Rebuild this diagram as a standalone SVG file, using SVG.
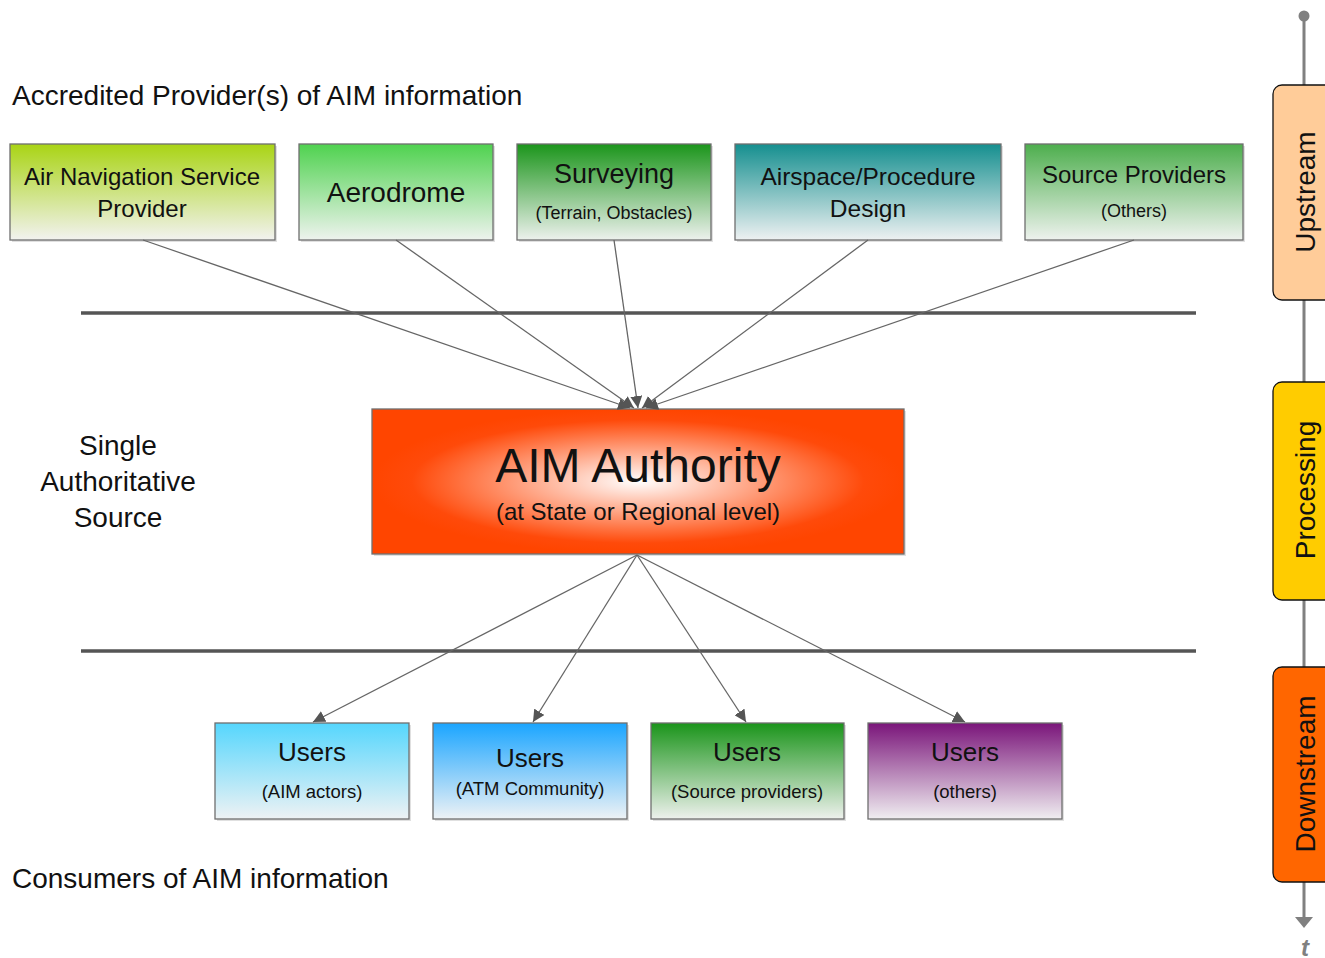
<svg xmlns="http://www.w3.org/2000/svg" width="1325" height="958" viewBox="0 0 1325 958">
<style>
text{font-family:"Liberation Sans",Arial,sans-serif;fill:#111;text-anchor:middle;dominant-baseline:central}
.box{stroke:#6f6f6f;stroke-width:1.3}
.sh{fill:#000;opacity:0.12}
.lbl{text-anchor:start}
.conn{stroke:#666;stroke-width:1.3;fill:none;marker-end:url(#ah)}
.bar{stroke:#555;stroke-width:3.5}
.side{stroke:#111;stroke-width:1.3}
</style>
<defs>
<marker id="ah" viewBox="0 0 10 10" refX="10" refY="5" markerWidth="12" markerHeight="12" markerUnits="userSpaceOnUse" orient="auto">
<path d="M0,0 L10,5 L0,10 z" fill="#555"/>
</marker>
<linearGradient id="g1" x1="0" y1="0" x2="0" y2="1"><stop offset="0" stop-color="#a9d414"/><stop offset="1" stop-color="#f2f2f0"/></linearGradient>
<linearGradient id="g2" x1="0" y1="0" x2="0" y2="1"><stop offset="0" stop-color="#4fd24f"/><stop offset="1" stop-color="#eef3ee"/></linearGradient>
<linearGradient id="g3" x1="0" y1="0" x2="0" y2="1"><stop offset="0" stop-color="#1b951b"/><stop offset="1" stop-color="#edf1ed"/></linearGradient>
<linearGradient id="g4" x1="0" y1="0" x2="0" y2="1"><stop offset="0" stop-color="#158f8f"/><stop offset="1" stop-color="#eef1f2"/></linearGradient>
<linearGradient id="g5" x1="0" y1="0" x2="0" y2="1"><stop offset="0" stop-color="#4dae4d"/><stop offset="1" stop-color="#eef2ee"/></linearGradient>
<linearGradient id="u1" x1="0" y1="0" x2="0" y2="1"><stop offset="0" stop-color="#55d6fd"/><stop offset="1" stop-color="#eef2f4"/></linearGradient>
<linearGradient id="u2" x1="0" y1="0" x2="0" y2="1"><stop offset="0" stop-color="#1aa5ff"/><stop offset="1" stop-color="#eef2f5"/></linearGradient>
<linearGradient id="u3" x1="0" y1="0" x2="0" y2="1"><stop offset="0" stop-color="#1a941a"/><stop offset="1" stop-color="#eef1ed"/></linearGradient>
<linearGradient id="u4" x1="0" y1="0" x2="0" y2="1"><stop offset="0" stop-color="#7a157a"/><stop offset="1" stop-color="#f0eef1"/></linearGradient>
<radialGradient id="rg" cx="0.5" cy="0.5" r="0.5"><stop offset="0" stop-color="#ffffff"/><stop offset="0.85" stop-color="#ff4a0a"/><stop offset="1" stop-color="#ff4500"/></radialGradient>
</defs>
<rect width="1325" height="958" fill="#fff"/>

<text class="lbl" x="12" y="95" font-size="28">Accredited Provider(s) of AIM information</text>
<text class="lbl" x="12" y="878" font-size="28">Consumers of AIM information</text>
<g id="single-source">
<text x="118" y="445" font-size="28">Single</text>
<text x="118" y="481" font-size="28">Authoritative</text>
<text x="118" y="517" font-size="28">Source</text>
</g>

<line class="bar" x1="81" y1="313" x2="1196" y2="313"/>
<line class="bar" x1="81" y1="651" x2="1196" y2="651"/>

<g id="ansp"><rect class="sh" x="12" y="146" width="265" height="96"/><rect class="box" x="10" y="144" width="265" height="96" fill="url(#g1)"/>
<text x="142" y="176" font-size="24">Air Navigation Service</text><text x="142" y="208" font-size="24">Provider</text></g>
<g id="aerodrome"><rect class="sh" x="301" y="146" width="194" height="96"/><rect class="box" x="299" y="144" width="194" height="96" fill="url(#g2)"/>
<text x="396" y="192" font-size="28">Aerodrome</text></g>
<g id="surveying"><rect class="sh" x="519" y="146" width="194" height="96"/><rect class="box" x="517" y="144" width="194" height="96" fill="url(#g3)"/>
<text x="614" y="174" font-size="27">Surveying</text><text x="614" y="213" font-size="18">(Terrain, Obstacles)</text></g>
<g id="airspace"><rect class="sh" x="737" y="146" width="266" height="96"/><rect class="box" x="735" y="144" width="266" height="96" fill="url(#g4)"/>
<text x="868" y="176" font-size="24.5">Airspace/Procedure</text><text x="868" y="208" font-size="24.5">Design</text></g>
<g id="source-providers"><rect class="sh" x="1027" y="146" width="218" height="96"/><rect class="box" x="1025" y="144" width="218" height="96" fill="url(#g5)"/>
<text x="1134" y="174" font-size="24">Source Providers</text><text x="1134" y="211" font-size="18">(Others)</text></g>

<g id="aim-authority"><rect class="sh" x="374" y="411" width="532" height="145"/><rect class="box" x="372" y="409" width="532" height="145" fill="url(#rg)"/>
<text x="638" y="465" font-size="48">AIM Authority</text><text x="638" y="511" font-size="24">(at State or Regional level)</text></g>

<g id="users-aim"><rect class="sh" x="217" y="725" width="194" height="96"/><rect class="box" x="215" y="723" width="194" height="96" fill="url(#u1)"/>
<text x="312" y="752" font-size="26">Users</text><text x="312" y="791" font-size="18.5">(AIM actors)</text></g>
<g id="users-atm"><rect class="sh" x="435" y="725" width="194" height="96"/><rect class="box" x="433" y="723" width="194" height="96" fill="url(#u2)"/>
<text x="530" y="758" font-size="26">Users</text><text x="530" y="788" font-size="18.5">(ATM Community)</text></g>
<g id="users-source"><rect class="sh" x="653" y="725" width="193" height="96"/><rect class="box" x="651" y="723" width="193" height="96" fill="url(#u3)"/>
<text x="747" y="752" font-size="26">Users</text><text x="747" y="791" font-size="18.5">(Source providers)</text></g>
<g id="users-others"><rect class="sh" x="870" y="725" width="194" height="96"/><rect class="box" x="868" y="723" width="194" height="96" fill="url(#u4)"/>
<text x="965" y="752" font-size="26">Users</text><text x="965" y="791" font-size="18.5">(others)</text></g>

<g id="connectors">
<line class="conn" x1="143" y1="240" x2="630" y2="408"/>
<line class="conn" x1="396" y1="240" x2="634" y2="408"/>
<line class="conn" x1="614" y1="240" x2="638" y2="408"/>
<line class="conn" x1="868" y1="240" x2="642" y2="408"/>
<line class="conn" x1="1134" y1="240" x2="646" y2="408"/>
<line class="conn" x1="637" y1="555" x2="313" y2="722"/>
<line class="conn" x1="637" y1="555" x2="533" y2="722"/>
<line class="conn" x1="637" y1="555" x2="746" y2="722"/>
<line class="conn" x1="637" y1="555" x2="965" y2="722"/>
</g>

<g id="timeline">
<line x1="1304" y1="16" x2="1304" y2="918" stroke="#808080" stroke-width="3"/>
<circle cx="1304" cy="16" r="5.5" fill="#808080"/>
<path d="M1295,917 L1313,917 L1304,928 z" fill="#808080"/>
<text x="1305" y="947" font-size="24" font-style="italic" font-weight="bold" style="fill:#808080">t</text>
</g>
<g id="upstream"><rect class="side" x="1273" y="85" width="70" height="215" rx="9" fill="#ffcc99"/>
<text transform="translate(1305,192) rotate(-90)" font-size="28">Upstream</text></g>
<g id="processing"><rect class="side" x="1273" y="382" width="70" height="218" rx="9" fill="#ffcc00"/>
<text transform="translate(1305,490) rotate(-90)" font-size="28">Processing</text></g>
<g id="downstream"><rect class="side" x="1273" y="667" width="70" height="215" rx="9" fill="#ff6600"/>
<text transform="translate(1305,774) rotate(-90)" font-size="28">Downstream</text></g>
</svg>
